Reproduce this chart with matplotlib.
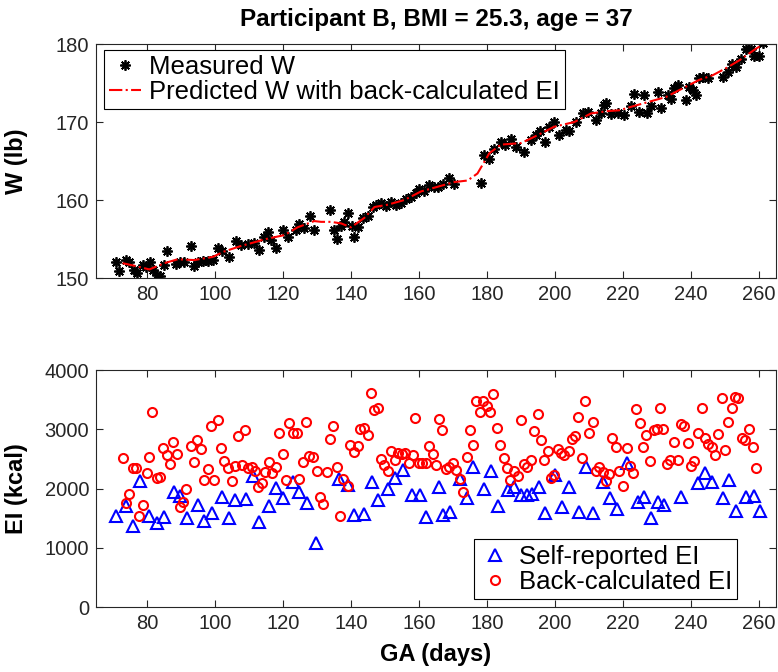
import matplotlib
matplotlib.use("Agg")
import matplotlib.pyplot as plt

plt.rcParams['font.family'] = ['Liberation Sans', 'DejaVu Sans']

# measured weight (lb) vs gestational age (days)
w_days = [70.9, 71.9, 73.7, 74.8, 76.3, 77.0, 78.7, 79.7, 81.0, 81.7, 82.9, 83.9,
          85.1, 85.9, 88.5, 89.8, 91.0, 92.9, 93.9, 94.9, 96.4, 97.8, 99.3, 101.0,
          102.2, 104.2, 106.2, 107.6, 109.6, 111.6, 113.0, 114.5, 115.5, 116.5,
          117.9, 119.9, 121.4, 123.8, 124.8, 126.1, 128.0, 129.0, 133.9, 134.9,
          135.9, 137.2, 138.0, 139.0, 140.2, 141.0, 142.1, 143.4, 144.9, 146.4,
          147.4, 148.8, 150.3, 151.8, 153.2, 154.7, 156.2, 157.6, 159.1, 160.1,
          161.6, 163.0, 164.5, 165.5, 167.0, 168.9, 170.4, 178.2, 179.2, 180.7,
          182.1, 184.1, 185.3, 187.1, 188.5, 191.0, 192.9, 194.4, 195.7, 197.1,
          198.3, 199.8, 201.3, 203.2, 204.2, 206.2, 208.1, 209.6, 212.1, 213.5,
          214.5, 215.0, 216.5, 218.4, 220.4, 222.3, 223.3, 224.6, 226.3, 227.2,
          228.2, 230.2, 231.2, 233.1, 234.1, 235.1, 236.3, 238.4, 239.3, 240.5,
          241.5, 242.4, 243.4, 244.9, 249.3, 250.8, 252.2, 253.2, 254.7, 256.2,
          257.6, 258.6, 260.1, 261.1]
w_meas = [152.1, 150.9, 152.3, 152.1, 151.0, 150.6, 151.7, 151.4, 152.0, 151.0, 150.4, 150.3,
          151.7, 153.5, 151.8, 152.1, 152.0, 154.1, 151.5, 152.1, 152.2, 152.2, 152.3, 153.9,
          153.4, 152.7, 154.7, 154.2, 154.4, 154.5, 153.6, 155.3, 155.9, 154.9,
          153.9, 156.2, 155.3, 156.2, 156.9, 156.4, 157.9, 156.1, 158.7, 156.1,
          155.0, 156.7, 157.2, 158.3, 156.7, 155.3, 156.5, 157.7, 157.9, 159.1,
          159.4, 159.6, 159.2, 159.7, 159.4, 159.6, 160.1, 160.4, 160.9, 161.4,
          161.1, 161.9, 161.7, 161.7, 162.1, 162.8, 162.1, 162.2, 165.8, 165.2,
          166.6, 167.5, 167.1, 167.8, 166.8, 166.2, 167.7, 168.3, 168.8, 167.5,
          169.4, 170.0, 168.3, 169.0, 168.8, 170.0, 171.1, 171.3, 170.3, 171.1,
          172.2, 172.4, 171.0, 171.2, 170.9, 172.1, 173.6, 171.3, 173.5, 171.2,
          172.1, 173.8, 171.8, 173.5, 173.0, 174.3, 174.7, 172.8, 174.5, 174.1,
          173.5, 175.7, 175.8, 175.6, 175.8, 176.4, 177.5, 177.1, 178.1, 179.4,
          179.4, 178.5, 178.5, 180.1]

# predicted weight with back-calculated EI
p_days = [72.8, 76.0, 80.7, 85.1, 89.0, 93.9, 99.3, 102.7, 107.6, 115.0, 120.4,
          124.3, 129.2, 131.2, 134.1, 137.1, 140.0, 143.9, 146.9, 150.8, 155.7,
          160.6, 165.5, 170.4, 174.3, 177.2, 180.7, 184.1, 190.0, 193.9, 199.8,
          205.7, 210.6, 215.5, 218.9, 222.8, 227.7, 232.6, 237.5, 242.4, 246.4,
          250.3, 254.2, 259.1, 261.0]
w_pred = [151.9, 151.6, 151.1, 151.9, 152.4, 152.3, 152.7, 153.4, 154.1, 155.0, 155.5,
          156.5, 157.3, 157.2, 157.2, 157.0, 156.5, 157.7, 159.1, 159.4, 160.0,
          161.1, 161.7, 162.3, 162.5, 163.4, 166.0, 167.1, 167.3, 168.1, 169.4,
          170.0, 171.1, 171.4, 171.5, 172.0, 172.6, 173.2, 174.3, 175.4, 176.0,
          176.9, 177.9, 179.4, 179.9]

# self-reported energy intake (kcal)
sr_days = [70.9, 73.8, 75.8, 77.9, 80.7, 82.8, 85.1, 87.8, 89.8, 91.8, 94.9, 96.9,
           99.1, 102.1, 104.0, 106.0, 109.1, 111.1, 113.0, 116.0, 117.9, 119.9,
           123.0, 124.8, 127.0, 129.7, 136.6, 139.0, 141.0, 143.9, 146.1, 148.0,
           151.0, 153.0, 155.2, 157.9, 160.3, 162.1, 166.0, 167.1, 169.1, 172.1,
           174.0, 175.9, 179.2, 181.2, 183.1, 186.3, 188.0, 190.0, 191.9, 193.2,
           195.2, 197.2, 200.1, 202.1, 204.2, 207.1, 209.1, 211.1, 214.2, 216.2,
           218.1, 221.1, 224.3, 226.3, 228.2, 230.2, 232.1, 237.2, 242.1, 244.2,
           246.2, 249.3, 251.3, 253.2, 256.2, 258.4, 260.3]
sr_ei = [1541, 1705, 1372, 2127, 1536, 1413, 1524, 1946, 1874, 1497, 1722, 1452,
         1592, 1862, 1497, 1806, 1823, 2211, 1440, 1705, 2003, 1845,
         2105, 1946, 1761, 1085, 2156, 2059, 1553, 1570, 2115, 1806,
         1987, 2172, 2313, 1891, 1891, 1524, 2020, 1553, 1609, 2156,
         1845, 2358, 1992, 2296, 1705, 1975, 2020, 1891, 1891, 1907,
         2020, 1581, 2228, 1683, 2020, 1609, 2368, 1592, 2115, 1845,
         1649, 2426, 1767, 1862, 1497, 1767, 1722, 1851, 2088, 2257,
         2105, 1835, 2144, 1626, 1851, 1874, 1626]

# back-calculated energy intake (kcal)
bc_days = [72.8, 73.8, 74.8, 75.8, 76.8, 77.7, 78.7, 79.9, 80.7, 81.6, 82.8, 83.8,
           84.8, 85.8, 86.8, 87.7, 88.7, 89.7, 90.7, 91.6, 92.8, 93.8, 94.8, 95.9,
           96.9, 97.8, 98.8, 99.8, 100.8, 101.8, 102.7, 103.7, 104.9, 105.9, 106.9,
           107.8, 108.8, 109.8, 110.8, 111.8, 112.7, 113.8, 114.8, 115.8, 116.8,
           117.9, 118.9, 119.9, 120.9, 121.9, 122.8, 124.0, 124.8, 125.8, 126.8,
           127.7, 128.9, 129.9, 130.9, 131.9, 132.8, 133.8, 134.8, 135.8, 136.8,
           137.7, 139.0, 139.7, 141.0, 142.0, 142.7, 143.9, 144.9, 145.9, 146.9,
           148.0, 148.8, 149.8, 150.8, 151.8, 153.0, 153.9, 154.9, 156.0, 157.0,
           158.1, 158.9, 159.9, 160.9, 162.1, 163.0, 164.0, 165.0, 166.0, 166.9,
           167.9, 168.9, 169.9, 170.9, 172.1, 172.8, 174.0, 175.0, 175.9, 176.9,
           177.9, 178.9, 179.9, 180.9, 181.9, 182.9, 183.9, 184.9, 185.9, 186.9,
           187.8, 189.0, 190.0, 191.0, 191.9, 192.9, 193.9, 194.9, 195.9, 196.9,
           197.9, 198.8, 199.8, 200.8, 201.8, 202.7, 204.0, 205.0, 205.9, 206.9,
           207.9, 208.9, 209.9, 211.1, 212.1, 213.0, 214.0, 215.0, 216.0, 216.9,
           217.9, 218.9, 220.1, 221.1, 222.1, 223.0, 223.8, 225.0, 226.0, 226.9,
           228.0, 229.0, 230.0, 230.9, 231.9, 232.9, 233.9, 234.9, 236.1, 237.1,
           238.0, 239.0, 240.0, 241.0, 242.2, 243.1, 244.1, 245.1, 246.1, 247.1,
           248.0, 249.0, 250.0, 251.0, 252.0, 252.9, 253.9, 254.9, 255.9, 257.1,
           258.2, 259.1]
bc_ei = [2520, 1750, 1907, 2341, 2341, 1541, 1722, 2267, 2527, 3297, 2183, 2200,
         2679, 2566, 2409, 2790, 2577, 1693, 1767, 1987, 2718, 2448, 2819, 2667,
         2144, 2324, 3055, 2144, 3151, 2679, 2470, 2341, 2132, 2380, 2886,
         2397, 2988, 2351, 2358, 2296, 2020, 2088, 2284, 2453, 2267,
         2358, 2942, 2583, 2144, 3111, 2942, 2932, 2156, 2443, 3128,
         2554, 2527, 2301, 1862, 1734, 2274, 2836, 3061, 2358, 1541,
         2156, 2042, 2735, 2622, 2723, 3005, 3016, 2903, 3607, 3325,
         3364, 2493, 2397, 2296, 2639, 2481, 2594, 2577, 2605, 2436,
         2566, 3185, 2426, 2436, 2436, 2718, 2583, 2397, 3168, 2988,
         2324, 2368, 2436, 2313, 2156, 1936, 2527, 2988, 2735, 3477,
         3297, 3477, 3393, 3297, 3590, 3016, 2735, 2510, 2341, 2144,
         2301, 2211, 3157, 2414, 2368, 2481, 2976, 3253, 2819, 2481,
         2633, 2172, 2228, 2662, 2594, 2566, 2633, 2831, 2886, 3212,
         2510, 3482, 2932, 3128, 2301, 2368, 2284, 2127, 2245, 2848,
         2706, 2301, 2042, 2679, 2380, 2257, 3337, 3101, 2696, 2903,
         2470, 2988, 3005, 3354, 3000, 2409, 2481, 2790, 2481, 3089,
         3061, 2763, 2380, 2470, 2932, 3354, 2858, 2751, 2706, 2566,
         2920, 3523, 2650, 3118, 3354, 3550, 3533, 2848, 2819, 3005,
         2706, 2351]

x_ticks = [80, 100, 120, 140, 160, 180, 200, 220, 240, 260]

fig = plt.figure(figsize=(7.78, 6.72), dpi=100)
ax1 = fig.add_axes([0.1234, 0.5863, 0.874, 0.3482])
ax2 = fig.add_axes([0.1234, 0.0967, 0.874, 0.3527])

star = (8, 2, 0)
ax1.plot(w_days, w_meas, linestyle='none', marker=star, color='k',
         markersize=7.5, markeredgewidth=1.3, label='Measured W')
ax1.plot(p_days, w_pred, linestyle='-.', color='r', linewidth=1.5,
         label='Predicted W with back-calculated EI')
ax1.set_xlim(65, 265)
ax1.set_ylim(150, 180)
ax1.set_yticks([150, 160, 170, 180])
ax1.set_ylabel('W (lb)', fontsize=17, fontweight='bold')
ax1.set_title('Participant B, BMI = 25.3, age = 37', fontsize=17.5, fontweight='bold', pad=13)
leg_kw = dict(fontsize=18.5, frameon=True, fancybox=False, edgecolor='k',
              framealpha=1, borderpad=0.2, handlelength=1.25, handletextpad=0.3,
              labelspacing=0.05, borderaxespad=0)
lg1 = ax1.legend(loc='upper left', bbox_to_anchor=(0.012, 0.975), **leg_kw)

ax2.plot(sr_days, sr_ei, linestyle='none', marker='^', markerfacecolor='none',
         markeredgecolor='b', markersize=8, markeredgewidth=1.5, label='Self-reported EI')
ax2.plot(bc_days, bc_ei, linestyle='none', marker='o', markerfacecolor='none',
         markeredgecolor='r', markersize=6.5, markeredgewidth=1.5, label='Back-calculated EI')
ax2.set_xlim(65, 265)
ax2.set_ylim(0, 4000)
ax2.set_yticks([0, 1000, 2000, 3000, 4000])
ax2.set_ylabel('EI (kcal)', fontsize=17, fontweight='bold')
ax2.set_xlabel('GA (days)', fontsize=17, fontweight='bold', labelpad=7)
lg2 = ax2.legend(loc='lower right', bbox_to_anchor=(0.943, 0.034), **leg_kw)

for lg in (lg1, lg2):
    lg.get_frame().set_linewidth(0.8)

for ax in (ax1, ax2):
    ax.set_xticks(x_ticks)
    ax.tick_params(direction='in', top=True, right=True, labelsize=14.5,
                   length=5, width=0.8, colors='0.15', pad=5)
    for s in ax.spines.values():
        s.set_color('0.15')
        s.set_linewidth(0.8)
    ax.yaxis.set_label_coords(-0.1, 0.5)

fig.savefig('out.png', dpi=100)
